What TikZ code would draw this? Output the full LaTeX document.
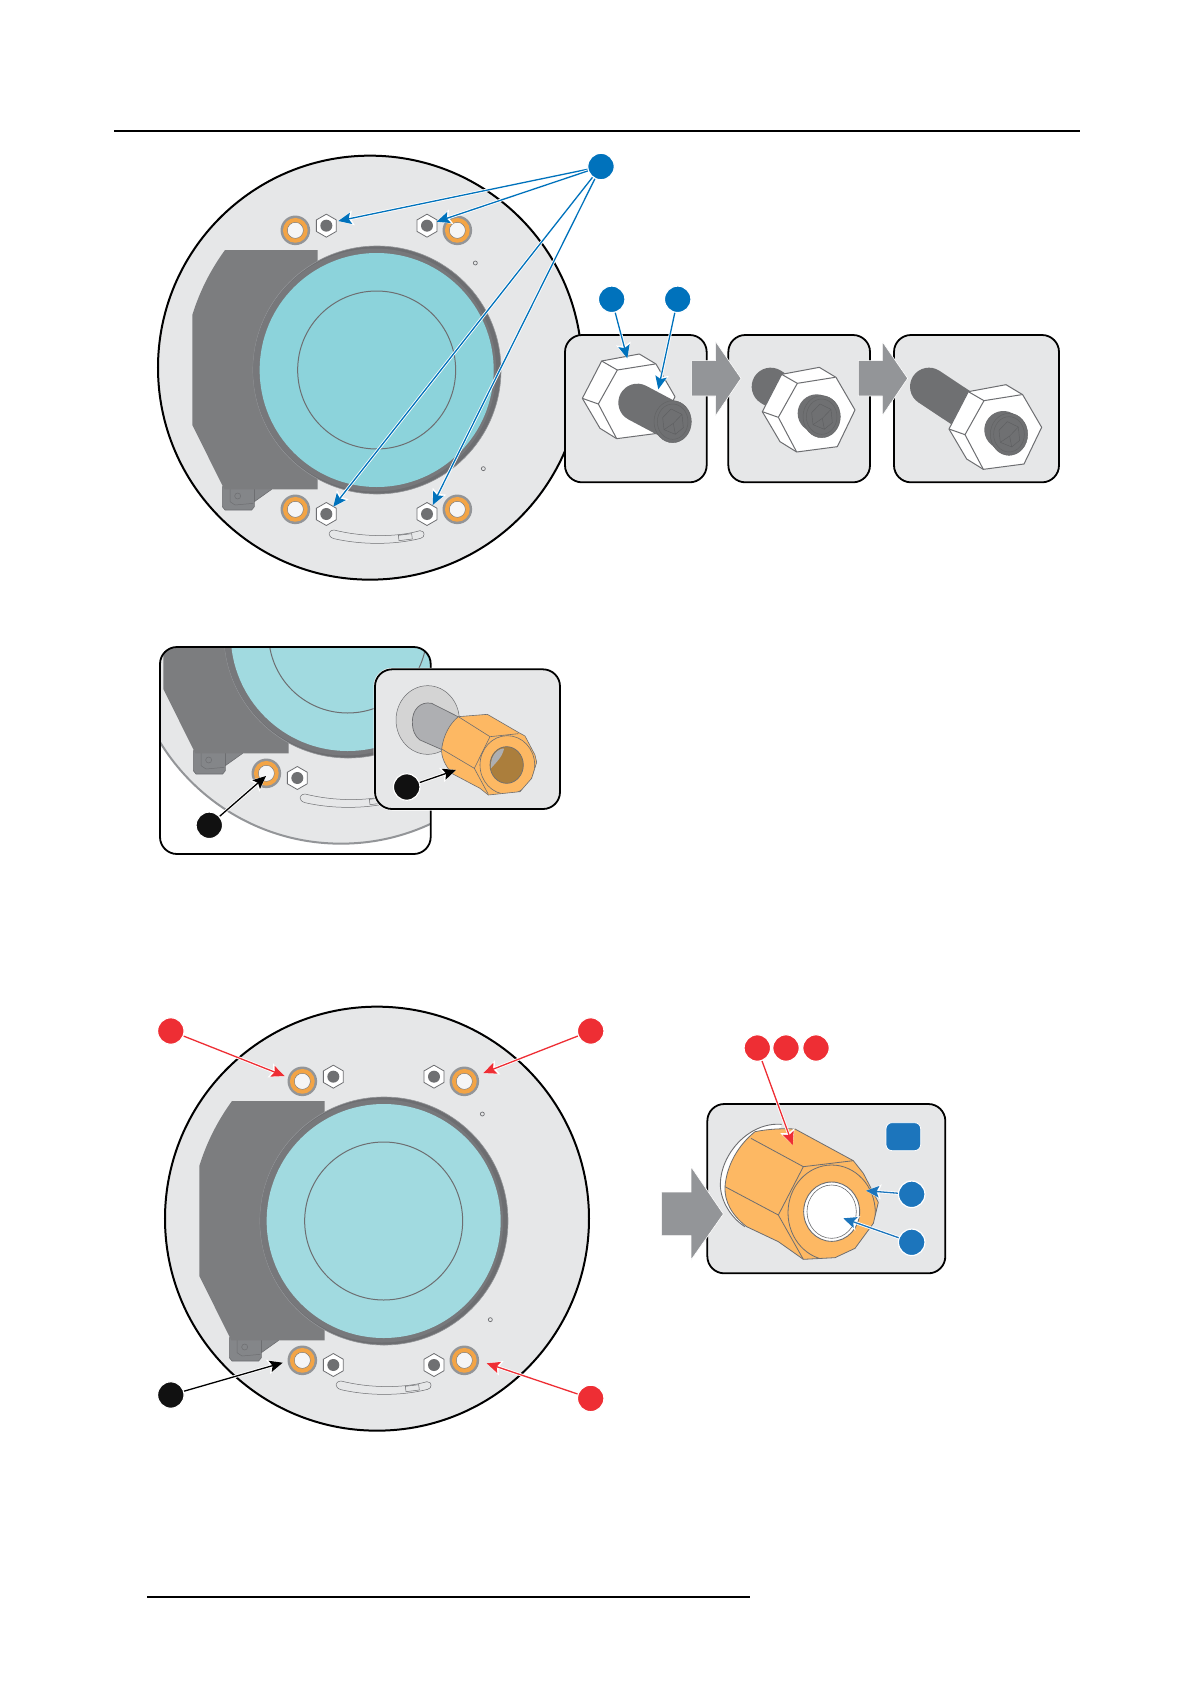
\documentclass[tikz,border=0pt]{standalone}
\usetikzlibrary{arrows.meta}
\definecolor{plategray}{HTML}{E6E7E8}
\definecolor{blockgray}{HTML}{7C7D7F}
\definecolor{ringgray}{HTML}{6D6E71}
\definecolor{ringband}{HTML}{77787B}
\definecolor{midgray}{HTML}{939598}
\definecolor{linegray}{HTML}{6D6E71}
\definecolor{boltdark}{HTML}{6F7072}
\definecolor{nutorange}{HTML}{FDB863}
\definecolor{ringorange}{HTML}{F3A445}
\definecolor{lensA}{HTML}{8CD3DB}
\definecolor{lensB}{HTML}{A1DAE0}
\definecolor{holebrown}{HTML}{AB7E3C}
\definecolor{calloutblue}{HTML}{0072BC}
\definecolor{calloutblueB}{HTML}{1C75BC}
\definecolor{calloutred}{HTML}{EE2E34}
\definecolor{calloutblack}{HTML}{111111}
\tikzset{
  zm/.style n args={2}{shift={(#1pt,-#2pt)},x=.33333pt,y=-.33333pt},
  callout/.style={circle,minimum size=26.5pt,inner sep=0pt,draw=white,line width=1.2pt,fill=#1},
  conn/.style={draw=#1,line width=1.3pt,-{Stealth[length=13pt,width=11.5pt,inset=2.5pt]},
    preaction={draw=white,line width=3pt,-{Stealth[length=15pt,width=14.5pt,inset=2.5pt]}}},
  panel/.style={draw=black,line width=1.8pt,fill=plategray,rounded corners=17pt},
  thinline/.style={draw=linegray,line width=1pt},
  grayarrow/.style={fill=midgray,draw=white,line width=.6pt},
  boltbody/.style={draw=boltdark,line width=38pt,line cap=round},
}
\newcommand{\ringmark}[2]{%
  \fill[midgray] (#1,#2) circle[radius=14.8pt];
  \fill[ringorange] (#1,#2) circle[radius=12.4pt];
  \fill[plategray!40!white,draw=linegray,line width=.4pt] (#1,#2) circle[radius=8pt];
}
\newcommand{\hexmark}[2]{%
  \draw[fill=white,draw=linegray,line width=.8pt,line join=round]
    (#1,#2) +(90:11.5pt) -- +(150:11.5pt) -- +(210:11.5pt) -- +(270:11.5pt) -- +(330:11.5pt) -- +(30:11.5pt) -- cycle;
  \fill[boltdark] (#1,#2) circle[radius=6pt];
}
\newcommand{\plateunit}[4]{%
\begin{scope}[zm={\the\numexpr150+#1\relax}{\the\numexpr140+#2\relax}]
  \fill[plategray,draw=#4,line width=2pt] (660,683) circle[radius=212pt];
  \draw[fill=midgray!90!black,draw=linegray,line width=.6pt,line join=round]
    (217,1040) -- (217,1100) -- (225,1110) -- (305,1110) -- (313,1100) -- (313,1085) -- (365,1048) -- (365,1040) -- cycle;
  \draw[linegray,line width=.5pt,line join=round] (240,1045) -- (240,1085) -- (255,1095) -- (310,1090);
  \draw[linegray,line width=.5pt] (313,1045) -- (313,1085);
  \draw[linegray,line width=.5pt] (263,1068) circle[radius=3pt];
  \fill[blockgray] (225,330) -- (503,330) -- (503,1048) -- (223,1048) -- (127,855) -- (127,525)
     .. controls (150,450) and (185,385) .. (225,330) -- cycle;
  \fill[ringgray,draw=midgray,line width=.6pt] (681,690) circle[radius=124pt];
  \fill[ringband] (674,690) circle[radius=121.5pt];
  \fill[#3] (680,690) circle[radius=117pt];
  \draw[draw=ringgray,line width=1pt] (680,690) circle[radius=79pt];
  \draw[draw=linegray,line width=.7pt,fill=plategray] (976,369) circle[radius=2pt];
  \draw[draw=linegray,line width=.7pt,fill=plategray] (1000,986) circle[radius=2pt];
  \draw[draw=linegray,line width=.5pt,line join=round]
    (552,1170) .. controls (640,1192) and (740,1192) .. (810,1172)
    .. controls (826,1172) and (826,1192) .. (812,1195)
    .. controls (730,1216) and (630,1214) .. (552,1196)
    .. controls (532,1190) and (532,1172) .. (552,1170) -- cycle;
  \draw[draw=linegray,line width=.5pt] (745,1186) -- (785,1181) -- (787,1197) -- (747,1202) -- cycle;
  \ringmark{436}{271}\ringmark{922}{271}\ringmark{436}{1108}\ringmark{922}{1108}
  \hexmark{529}{257}\hexmark{831}{257}\hexmark{529}{1122}\hexmark{831}{1122}
\end{scope}}
\newcommand{\hexnut}[2]{%
\begin{scope}[shift={(#1,#2)}]
  \draw[fill=white,thinline,line join=round]
    (695,283) -- (808,262) -- (858,292) -- (915,390) -- (862,500) -- (740,516) -- (690,485) -- (637,395) -- cycle;
  \draw[thinline,line join=round] (695,283) -- (742,310) -- (855,292);
  \draw[thinline,line join=round] (742,310) -- (685,412) -- (637,395);
  \draw[thinline,line join=round] (685,412) -- (740,516);
\end{scope}}
\newcommand{\boltface}[2]{%
\begin{scope}[shift={(#1,#2)}]
  \fill[boltdark] (0,0) ellipse[x radius=56,y radius=63];
  \draw[draw=boltdark!88!black,line width=.45pt] (0,0) ellipse[x radius=56,y radius=63];
  \draw[draw=boltdark!88!black,line width=.45pt] (0,0) ellipse[x radius=46,y radius=53];
  \draw[draw=boltdark!85!black,line width=.45pt,line join=round]
    (-30,-12) -- (-5,-38) -- (28,-22) -- (32,18) -- (8,38) -- (-26,24) -- cycle
    (-26,24) -- (2,5) -- (28,-22) (2,5) -- (8,38);
\end{scope}}
\begin{document}
\begin{tikzpicture}[x=1pt,y=-1pt,line cap=butt]
\useasboundingbox (0,0) rectangle (1190,1684);
\fill[white] (0,0) rectangle (1190,1684);

\coordinate (ruleTopL) at (114,131);
\coordinate (ruleTopR) at (1080,131);
\coordinate (ruleBotL) at (147,1597);
\coordinate (ruleBotR) at (750,1597);
\draw[black,line width=1.4pt] (ruleTopL) -- (ruleTopR);
\draw[black,line width=1.4pt] (ruleBotL) -- (ruleBotR);

% first plate and nut panels
\plateunit{0}{0}{lensA}{black}

\begin{scope}[zm={550}{280}]
  \draw[panel] (45,165) rectangle (470,607);
  \draw[panel] (535,165) rectangle (960,607);
  \draw[panel] (1032,165) rectangle (1527,607);
  \hexnut{-540}{-40}
  \draw[boltbody] (262,368) -- (360,420);
  \boltface{368}{425}
  \draw[boltbody] (662,320) -- (670,325);
  \hexnut{0}{0}
  \draw[boltbody] (800,400) -- (812,408);
  \boltface{815}{410}
  \draw[boltbody] (1137,320) -- (1235,385);
  \hexnut{560}{52}
  \draw[boltbody] (1360,450) -- (1372,460);
  \boltface{1377}{463}
  \draw[grayarrow] (425,242) -- (497,242) -- (497,185) -- (573,295) -- (497,407) -- (497,348) -- (425,348) -- cycle;
  \draw[grayarrow] (925,242) -- (997,242) -- (997,185) -- (1073,295) -- (997,407) -- (997,348) -- (925,348) -- cycle;
\end{scope}

\node[callout=calloutblue] (blueTop) at (601,166.5) {};
\coordinate (tipA) at (338.3,221);
\coordinate (tipB) at (436.7,221.7);
\coordinate (tipC) at (333.3,506.7);
\coordinate (tipD) at (432.7,505);
\draw[conn=calloutblue] (blueTop) -- (tipA);
\draw[conn=calloutblue] (blueTop) -- (tipB);
\draw[conn=calloutblue] (blueTop) -- (tipC);
\draw[conn=calloutblue] (blueTop) -- (tipD);
\node[callout=calloutblue] (blueNut) at (611.7,299.3) {};
\node[callout=calloutblue] (blueBolt) at (677.7,299.3) {};
\coordinate (tipNut) at (627.3,358.3);
\coordinate (tipBolt) at (658.3,389.3);
\draw[conn=calloutblue] (blueNut) -- (tipNut);
\draw[conn=calloutblue] (blueBolt) -- (tipBolt);

% second group
\fill[white] (160,647) rectangle (430.7,854);
\begin{scope}
  \clip[rounded corners=17pt] (160,647) rectangle (430.7,854);
  \plateunit{-29}{264}{lensB}{midgray}
\end{scope}
\draw[black,line width=1.8pt,rounded corners=17pt] (160,647) rectangle (430.7,854);

\begin{scope}[zm={150}{640}]
  \draw[draw=white,line width=3pt,rounded corners=17pt] (675,88) rectangle (1230,507);
  \draw[panel] (675,88) rectangle (1230,507);
\end{scope}
\begin{scope}[zm={380}{675}]
  \draw[fill=black!17,draw=linegray,line width=.5pt] (143,135) ellipse[x radius=95,y radius=103];
  \draw[fill=midgray!75!white,draw=linegray,line width=.7pt,line join=round]
    (240,128) -- (155,85) .. controls (120,78) and (97,105) .. (97,140)
    .. controls (97,165) and (105,185) .. (120,195) -- (195,228) -- cycle;
  \draw[fill=nutorange,draw=linegray,line width=.6pt,line join=round]
    (235,125) -- (322,118) -- (415,172) -- (435,183) -- (465,240) -- (470,262) -- (455,310) -- (420,350)
    -- (325,360) -- (300,340) -- (215,295) .. controls (195,270) and (183,245) .. (185,222)
    .. controls (190,180) and (210,145) .. (235,125) -- cycle;
  \draw[draw=linegray,line width=.6pt,line join=round] (235,125) -- (330,185) -- (415,176)
    (185,222) -- (283,280) -- (330,185) (283,280) -- (325,358);
  \begin{scope}
    \clip (330,185) -- (283,280) -- (325,358) -- (420,350) -- (455,310) -- (470,262) -- (465,240) -- (435,183) -- (415,172) -- cycle;
    \draw[draw=linegray,line width=.6pt] (382,270) ellipse[x radius=82,y radius=88];
  \end{scope}
  \draw[fill=holebrown,draw=linegray,line width=.7pt] (380,270) ellipse[x radius=50,y radius=55];
  \fill[midgray!75!white] (370,220) .. controls (345,225) and (330,250) .. (333,280)
     .. controls (345,265) and (365,250) .. (372,222) -- cycle;
\end{scope}

\node[callout=calloutblack] (blackRing) at (209.3,825.3) {};
\coordinate (tipRing) at (266,776);
\draw[conn=black] (blackRing) -- (tipRing);
\node[callout=calloutblack] (blackNut) at (406.7,787) {};
\coordinate (tipOrange) at (456,770);
\draw[conn=black] (blackNut) -- (tipOrange);

% third group
\plateunit{7}{851}{lensB}{black}

\begin{scope}[zm={650}{1020}]
  \draw[panel] (172,252) rectangle (886,760);
\end{scope}
\begin{scope}[zm={715}{1115}]
  \fill[white] (200,28) .. controls (100,20) and (15,120) .. (16,210) .. controls (17,260) and (50,310) .. (90,335) -- cycle;
  \draw[draw=linegray,line width=.9pt] (200,28) .. controls (100,20) and (15,120) .. (16,210) .. controls (17,260) and (50,310) .. (90,335);
  \draw[fill=nutorange,draw=linegray,line width=.8pt,line join=round]
    (120,50) .. controls (160,42) and (200,40) .. (240,42) -- (415,137) -- (445,175) -- (490,262) -- (475,325) -- (420,400) -- (360,428) -- (265,433)
    -- (190,380) -- (95,335) .. controls (50,300) and (28,260) .. (30,215) .. controls (35,150) and (70,90) .. (120,50) -- cycle;
  \draw[draw=linegray,line width=.8pt,line join=round] (108,70) -- (265,155) -- (415,137)
    (30,215) -- (190,300) -- (265,155) (190,300) -- (265,433);
  \begin{scope}
    \clip (265,155) -- (190,300) -- (265,433) -- (360,428) -- (420,400) -- (475,325) -- (490,262) -- (445,175) -- (415,137) -- cycle;
    \draw[draw=linegray,line width=.8pt] (350,293) ellipse[x radius=131,y radius=143];
  \end{scope}
  \draw[fill=white,draw=linegray,line width=.9pt] (350,290) ellipse[x radius=84,y radius=89];
  \draw[draw=linegray,line width=.6pt] (350,290) ellipse[x radius=74,y radius=80];
\end{scope}
\begin{scope}[zm={650}{1020}]
  \draw[grayarrow] (35,516) -- (123,516) -- (123,440) -- (220,582) -- (123,720) -- (123,647) -- (35,647) -- cycle;
  \draw[draw=white,line width=.8pt,fill=calloutblueB,rounded corners=6pt] (708,308) rectangle (812,392);
\end{scope}

\node[callout=calloutred] (redTL) at (170.8,1031) {};
\node[callout=calloutred] (redTR) at (590.7,1031) {};
\node[callout=calloutred] (redBR) at (590.7,1398.4) {};
\node[callout=calloutblack] (blackBL) at (170.8,1395) {};
\coordinate (tipTL) at (284.6,1076);
\coordinate (tipTR) at (483.3,1073);
\coordinate (tipBR) at (486.7,1363.3);
\coordinate (tipBL) at (282.7,1362.7);
\draw[conn=calloutred] (redTL) -- (tipTL);
\draw[conn=calloutred] (redTR) -- (tipTR);
\draw[conn=calloutred] (redBR) -- (tipBR);
\draw[conn=black] (blackBL) -- (tipBL);

\node[callout=calloutred] (redA) at (757.3,1048) {};
\node[callout=calloutred] (redB) at (786,1048) {};
\node[callout=calloutred] (redC) at (816,1048) {};
\coordinate (tipFlat) at (792.7,1145);
\draw[conn=calloutred] (redA) -- (tipFlat);
\node[callout=calloutblueB] (blueFace) at (911.7,1194.3) {};
\node[callout=calloutblueB] (blueHole) at (911.7,1242.3) {};
\coordinate (tipFace) at (866,1190.7);
\coordinate (tipHole) at (843.3,1218.3);
\draw[conn=calloutblueB] (blueFace) -- (tipFace);
\draw[conn=calloutblueB] (blueHole) -- (tipHole);
\end{tikzpicture}
\end{document}
